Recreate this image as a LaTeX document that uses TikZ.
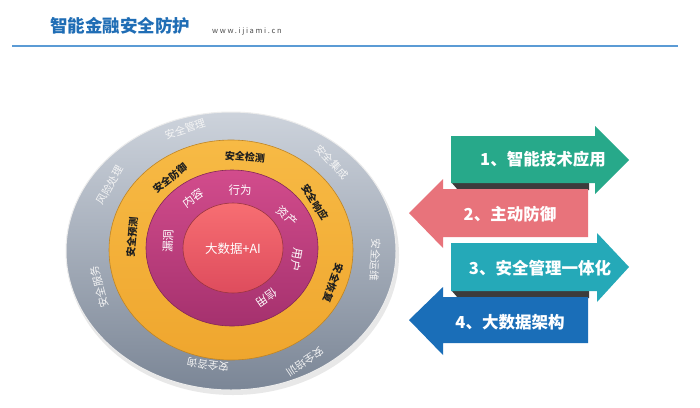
\documentclass[tikz,border=0pt]{standalone}
\usepackage{fontspec}
\newfontfamily\cjk{Noto Sans CJK SC}
\usetikzlibrary{shapes.geometric}
\definecolor{titleblue}{HTML}{1F6DB5}
\definecolor{lineblue}{HTML}{5B9BD5}
\definecolor{agreen}{HTML}{27A98A}
\definecolor{apink}{HTML}{E8737B}
\definecolor{ateal}{HTML}{25A9B8}
\definecolor{ablue}{HTML}{1A6EB8}
\definecolor{greytop}{HTML}{CDD3DC}
\definecolor{greybot}{HTML}{7B8696}
\definecolor{orangetop}{HTML}{F7BA45}
\definecolor{orangebot}{HTML}{EFA62E}
\definecolor{magtop}{HTML}{D24C8C}
\definecolor{magbot}{HTML}{A5316E}
\definecolor{redtop}{HTML}{F76E72}
\definecolor{redbot}{HTML}{DE4C5D}
\definecolor{strip}{HTML}{3C3C3C}
\begin{document}
\begin{tikzpicture}[x=1pt,y=-1pt,font=\cjk,
  greytxt/.style={text=white!92!gray,inner sep=0,font=\cjk\fontsize{10.5}{11}\selectfont},
  orangetxt/.style={text=black!88,inner sep=0,font=\cjk\bfseries\fontsize{10}{11}\selectfont},
  magtxt/.style={text=white,inner sep=0,font=\cjk\fontsize{11.5}{12}\selectfont},
  arrowtxt/.style={text=white,font=\cjk\bfseries\fontsize{16.5}{17}\selectfont}]
\useasboundingbox (0,0) rectangle (700,407);
\fill[white] (0,0) rectangle (700,407);
% header
\node[text=titleblue,font=\cjk\bfseries\fontsize{17.5}{18}\selectfont,anchor=west,inner sep=0] (title) at (50,26) {智能金融安全防护};
\node[text=black!70,font=\cjk\fontsize{7.5}{8}\selectfont\addfontfeatures{LetterSpace=22},anchor=west,inner sep=0] (url) at (212,31) {www.ijiami.cn};
\coordinate (l1) at (12,46);
\coordinate (l2) at (678,46);
\draw[lineblue,line width=1.2] (l1) -- (l2);
% rings
\fill[black!9] (233,255) ellipse [x radius=166,y radius=140];
\path[top color=greytop,bottom color=greybot,draw=white!85!gray,line width=1] (231,251) ellipse [x radius=165,y radius=139];
\path[top color=orangetop,bottom color=orangebot,draw=orangebot!80!black,line width=0.6] (231,250) ellipse [x radius=122,y radius=110];
\path[top color=magtop,bottom color=magbot,draw=magbot!80!black,line width=0.6] (232,248) ellipse [x radius=86,y radius=78];
\path[top color=redtop,bottom color=redbot,draw=redbot!70!black,line width=0.6] (233,248) ellipse [x radius=50,y radius=45];
\node[text=white,font=\cjk\fontsize{12.5}{13}\selectfont] (core) at (233,249) {大数据+AI};
% magenta ring labels
\node[magtxt] (m1) at (240,190) {行为};
\node[magtxt,rotate=35] (m2) at (193,198) {内容};
\node[magtxt,rotate=-42] (m3) at (287,216) {资产};
\node[magtxt,rotate=88] (m4) at (168,241) {漏洞};
\node[magtxt,rotate=-100] (m5) at (297,260) {用户};
\node[magtxt,rotate=-145] (m6) at (267,298) {信用};
% orange ring labels
\node[orangetxt,rotate=-5] (o1) at (245,157) {安全检测};
\node[orangetxt,rotate=38] (o2) at (170,178) {安全防御};
\node[orangetxt,rotate=-58] (o3) at (315,202) {安全响应};
\node[orangetxt,rotate=85] (o4) at (132,237) {安全预测};
\node[orangetxt,rotate=-110] (o5) at (333,283) {安全恢复};
% grey ring labels
\node[greytxt,rotate=18] (g1) at (185,129) {安全管理};
\node[greytxt,rotate=-48] (g2) at (332,162) {安全集成};
\node[greytxt,rotate=60] (g3) at (110,185) {风险处理};
\node[greytxt,rotate=105] (g4) at (99,287) {安全服务};
\node[greytxt,rotate=-93] (g5) at (375,260) {安全运维};
\node[greytxt,rotate=-146] (g6) at (305,362) {安全培训};
\node[greytxt,rotate=172] (g7) at (208,365) {安全咨询};
% arrows
\fill[strip] (451,182) -- (589,182) -- (589,190) -- (458,190) -- cycle;
\fill[strip] (451,290) -- (589,290) -- (589,298) -- (458,298) -- cycle;
\fill[agreen] (451,136) -- (595,136) -- (595,126) -- (629,160) -- (595,194) -- (595,183) -- (451,183) -- cycle;
\fill[apink] (588,189) -- (443,189) -- (443,179) -- (409,213) -- (443,248) -- (443,237) -- (588,237) -- cycle;
\fill[ateal] (451,243) -- (597,243) -- (597,233) -- (629,267) -- (597,302) -- (597,291) -- (451,291) -- cycle;
\fill[ablue] (588,297) -- (443,297) -- (443,287) -- (409,320) -- (443,355) -- (443,343) -- (588,343) -- cycle;
\node[arrowtxt] (a1) at (543,159) {1、智能技术应用};
\node[arrowtxt] (a2) at (510,214) {2、主动防御};
\node[arrowtxt] (a3) at (540,268) {3、安全管理一体化};
\node[arrowtxt] (a4) at (510,322) {4、大数据架构};
\end{tikzpicture}
\end{document}
